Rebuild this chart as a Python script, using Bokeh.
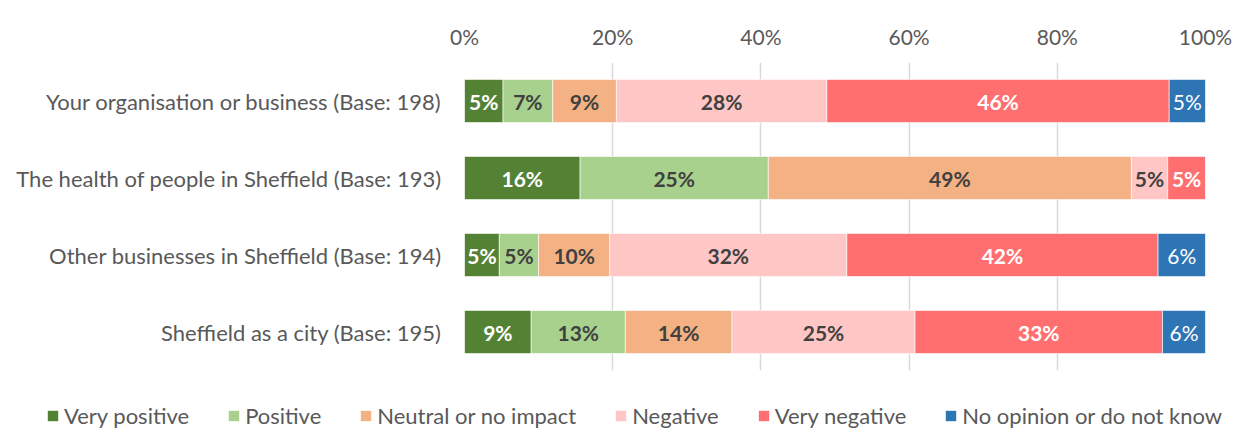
import numpy as np
from bokeh.plotting import figure
from bokeh.models import (ColumnDataSource, FactorRange, Range1d, FixedTicker,
                          PrintfTickFormatter, Legend, LegendItem)
from bokeh.core.properties import value
from bokeh.embed import file_html
from bokeh.resources import INLINE

# ---------------- data ----------------
categories = [
    "Your organisation or business (Base: 198)",
    "The health of people in Sheffield (Base: 193)",
    "Other businesses in Sheffield (Base: 194)",
    "Sheffield as a city (Base: 195)",
]
series_names = ["Very positive", "Positive", "Neutral or no impact",
                "Negative", "Very negative", "No opinion or do not know"]
very_positive = [5.2, 15.6, 4.7, 9.0]
positive = [6.7, 25.4, 5.3, 12.7]
neutral = [8.6, 49.0, 9.6, 14.4]
negative = [28.4, 4.9, 32.0, 24.7]
very_negative = [46.2, 5.1, 42.0, 33.4]
no_opinion = [4.9, 0.0, 6.4, 5.8]
x_ticks = [0, 20, 40, 60, 80, 100]

# ---------------- styles ----------------
FONT = "Lato"
colors = ["#548235", "#A9D18E", "#F4B183", "#FFC6C6", "#FF6F6F", "#2E75B6"]
label_colors = ["white", "#404040", "#404040", "#404040", "white", "white"]
label_styles = ["bold", "bold", "bold", "bold", "bold", "normal"]
GREY = "#595959"

keys = ["s0", "s1", "s2", "s3", "s4", "s5"]
all_series = [very_positive, positive, neutral, negative, very_negative, no_opinion]
src = ColumnDataSource(data=dict(cat=categories, **{k: v for k, v in zip(keys, all_series)}))

p = figure(width=1233, height=384, output_backend="svg", toolbar_location=None,
           x_range=Range1d(0, 100), y_range=FactorRange(factors=categories[::-1]),
           x_axis_location="above",
           min_border_left=464, min_border_right=28, min_border_top=62, min_border_bottom=14)
p.outline_line_color = None
p.background_fill_color = "white"
p.border_fill_color = "white"

renderers = p.hbar_stack(keys, y="cat", height=0.56, color=colors, source=src,
                         line_color="white", line_width=0.6)

# in-bar labels
vals = np.array(all_series, dtype=float)
lefts = np.vstack([np.zeros(vals.shape[1]), np.cumsum(vals, axis=0)[:-1]])
for i in range(len(keys)):
    xs, ys, ts = [], [], []
    for j, cat in enumerate(categories):
        v = vals[i, j]
        if v <= 0:
            continue
        xs.append(lefts[i, j] + v / 2.0)
        ys.append(cat)
        ts.append(f"{int(round(v))}%")
    p.text(x=xs, y=ys, text=ts, text_align="center", text_baseline="middle",
           text_font=value(FONT), text_font_size="21px", text_font_style=label_styles[i],
           text_color=label_colors[i])

# axes
xa = p.xaxis[0]
xa.ticker = FixedTicker(ticks=x_ticks)
xa.formatter = PrintfTickFormatter(format="%d%%")
xa.axis_line_color = None
xa.major_tick_line_color = None
xa.minor_tick_line_color = None
xa.major_tick_out = 0
xa.major_label_text_font = FONT
xa.major_label_text_font_size = "21px"
xa.major_label_text_color = GREY
xa.major_label_standoff = 14

ya = p.yaxis[0]
ya.axis_line_color = None
ya.major_tick_line_color = None
ya.minor_tick_line_color = None
ya.major_tick_out = 0
ya.major_label_text_font = FONT
ya.major_label_text_font_size = "22px"
ya.major_label_text_color = GREY
ya.major_label_standoff = 23

p.xgrid.grid_line_color = "#D9D9D9"
p.xgrid.grid_line_width = 1.5
p.ygrid.grid_line_color = None

# ---------------- legend strip (separate root, full-width frame) ----------------
pl = figure(width=1233, height=45, output_backend="svg", toolbar_location=None,
            x_range=Range1d(0, 1), y_range=Range1d(0, 1),
            x_axis_location=None, y_axis_location=None,
            min_border=0, min_border_left=0, min_border_right=0,
            min_border_top=0, min_border_bottom=0)
pl.outline_line_color = None
pl.xgrid.grid_line_color = None
pl.ygrid.grid_line_color = None
pl.background_fill_color = "white"
pl.border_fill_color = "white"
# off-range proxies (outside the x range) so the legend swatches take the series colours
leg_renderers = [pl.hbar(y=[0.5], left=[5], right=[6], height=0.1,
                         fill_color=c, line_color=None) for c in colors]
legend = Legend(items=[LegendItem(label=n, renderers=[r]) for n, r in zip(series_names, leg_renderers)],
                orientation="horizontal", location=(46, 0),
                glyph_width=13, glyph_height=13, label_standoff=5, spacing=38,
                padding=0, margin=0, border_line_color=None, background_fill_alpha=0,
                label_text_font=FONT, label_text_font_size="22px", label_text_color=GREY)
pl.add_layout(legend, "center")

open("out.html", "w").write(file_html([p, pl], INLINE))
